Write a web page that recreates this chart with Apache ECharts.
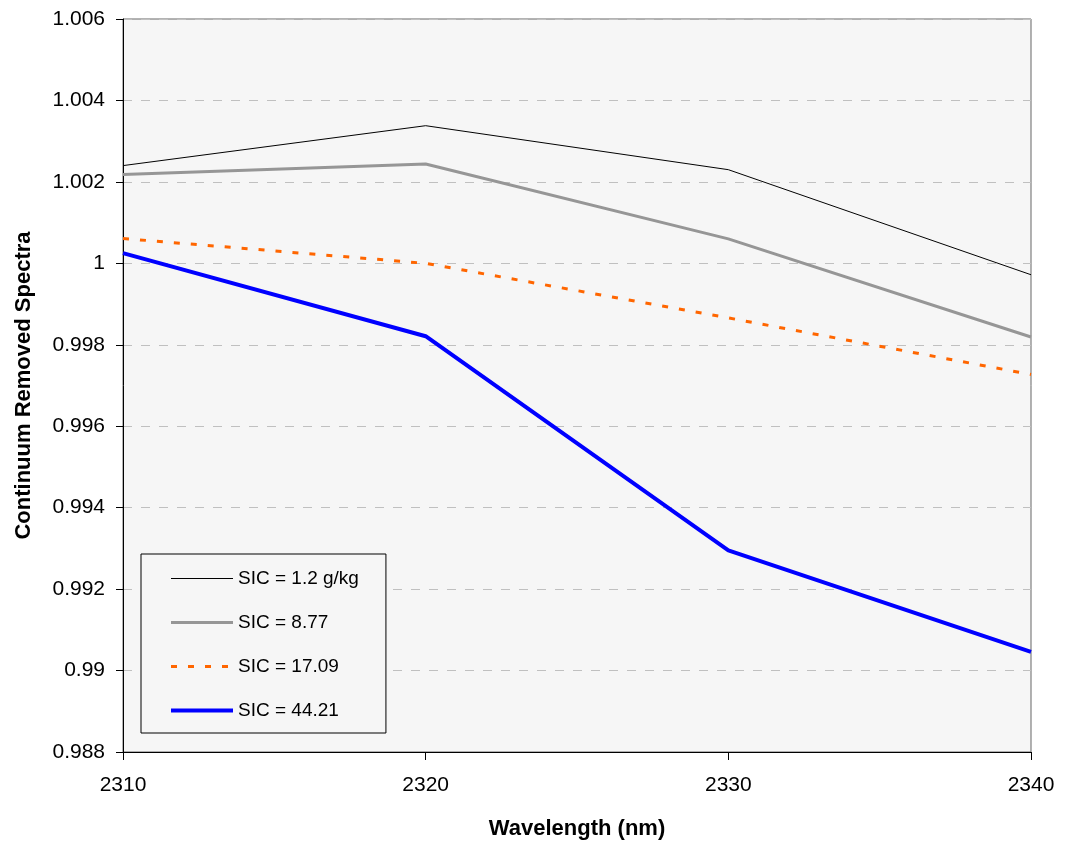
<!DOCTYPE html>
<html>
<head>
<meta charset="utf-8">
<script src="https://cdn.jsdelivr.net/npm/echarts@6/dist/echarts.min.js"></script>
<style>html,body{margin:0;padding:0;background:#fff}#c{width:1071px;height:846px}</style>
</head>
<body>
<div id="c"></div>
<script>
const wavelengths = [2310, 2320, 2330, 2340];
const seriesNames = ['SIC = 1.2 g/kg', 'SIC = 8.77', 'SIC = 17.09', 'SIC = 44.21'];
const sic1_2 = [1.00240, 1.00338, 1.00230, 0.99972];
const sic8_77 = [1.00218, 1.00244, 1.00060, 0.99819];
const sic17_09 = [1.00061, 1.00000, 0.99866, 0.99727];
const sic44_21 = [1.00025, 0.99821, 0.99295, 0.99046];

const chart = echarts.init(document.getElementById('c'));
const font = 'Liberation Sans, Arial, sans-serif';
function pts(arr){ return wavelengths.map((w,i)=>[w, arr[i]]); }
const styles = [
  {color:'#000000', width:1, type:'solid'},
  {color:'#969696', width:3, type:'solid'},
  {color:'#ff6600', width:3, type:[6,11]},
  {color:'#0000ff', width:4, type:'solid'}
];
const datas = [sic1_2, sic8_77, sic17_09, sic44_21];
chart.setOption({
  animation:false,
  backgroundColor:'#ffffff',
  grid:{left:123, top:19, right:40, bottom:94, show:true, backgroundColor:'#f6f6f6', borderColor:'#666666', borderWidth:1},
  legend:{
    orient:'vertical', left:141, top:554,
    padding:[15,27,13,28], itemWidth:62, itemHeight:14, itemGap:25,
    borderColor:'#000', borderWidth:1, backgroundColor:'#f6f6f6',
    textStyle:{fontFamily:font, fontSize:19, color:'#000'},
    itemStyle:{opacity:0},
    data: seriesNames.map((n,i)=>({
      name:n,
      itemStyle:{opacity:0},
      lineStyle:{color:styles[i].color, width:styles[i].width, type:styles[i].type, opacity:1}
    }))
  },
  xAxis:{
    type:'value', min:2310, max:2340, interval:10,
    name:'Wavelength (nm)', nameLocation:'middle', nameGap:66,
    nameTextStyle:{fontFamily:font, fontSize:22, fontWeight:'bold', color:'#000'},
    axisLine:{lineStyle:{color:'#000', width:1}},
    axisTick:{show:true, length:8, lineStyle:{color:'#000'}},
    axisLabel:{fontFamily:font, fontSize:21, color:'#000', margin:23, formatter:v=>String(v)},
    splitLine:{show:false}
  },
  yAxis:{
    type:'value', min:0.988, max:1.006, interval:0.002,
    name:'Continuum Removed Spectra', nameLocation:'middle', nameGap:88,
    nameTextStyle:{fontFamily:font, fontSize:22, fontWeight:'bold', color:'#000'},
    axisLine:{show:true, lineStyle:{color:'#000', width:1}},
    axisTick:{show:true, length:7, lineStyle:{color:'#000'}},
    axisLabel:{fontFamily:font, fontSize:21, color:'#000', margin:18,
      formatter:v=>String(parseFloat(v.toFixed(3)))},
    splitLine:{show:true, lineStyle:{color:'#c0c0c0', type:[9,9], width:1}}
  },
  series: seriesNames.map((n,i)=>({
    name:n, type:'line', data:pts(datas[i]), symbol:'none', showSymbol:false,
    lineStyle:{color:styles[i].color, width:styles[i].width, type:styles[i].type},
    itemStyle:{color:styles[i].color},
    z: 2+i
  }))
});
</script>
</body>
</html>
